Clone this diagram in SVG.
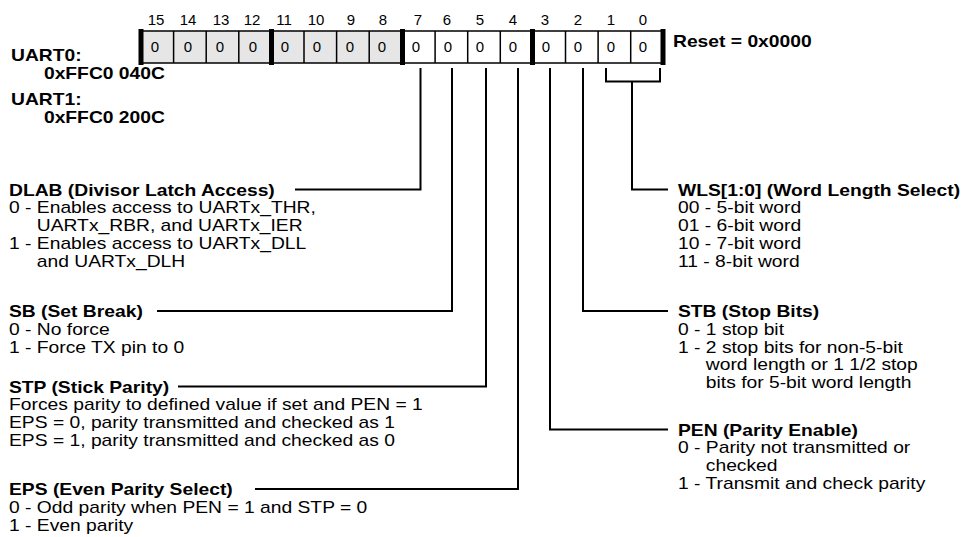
<svg xmlns="http://www.w3.org/2000/svg" width="964" height="537" viewBox="0 0 964 537">
<style>
text{font-family:"Liberation Sans",Arial,Helvetica,sans-serif;font-size:15.8px;fill:#000}
.b{font-weight:bold}
.d{font-size:15px;text-anchor:middle}
.cell{fill:none;stroke:#000;stroke-width:1.5}
.bar{fill:#000}
.con{fill:none;stroke:#000;stroke-width:2}
</style>
<rect width="964" height="537" fill="#fff"/>
<g id="register">
<rect x="141" y="31" width="261" height="32" fill="#e6e6e6"/>
<rect x="402" y="31" width="261" height="32" fill="#fff"/>
<path class="cell" d="M141,31H663M141,63H663M173.6,31V63M206.2,31V63M238.8,31V63M304,31V63M336.6,31V63M369.2,31V63M435.1,31V63M467.7,31V63M500.3,31V63M565.5,31V63M598.1,31V63M630.7,31V63"/>
<rect class="bar" x="138.5" y="29" width="5" height="36"/>
<rect class="bar" x="269" y="29" width="5" height="36"/>
<rect class="bar" x="400" y="29" width="5" height="36"/>
<rect class="bar" x="530" y="29" width="5" height="36"/>
<rect class="bar" x="660.5" y="29" width="5" height="36"/>
<g id="bitnums">
<text class="d" x="156" y="25">15</text><text class="d" x="188" y="25">14</text><text class="d" x="221" y="25">13</text><text class="d" x="252" y="25">12</text>
<text class="d" x="284" y="25">11</text><text class="d" x="316" y="25">10</text><text class="d" x="351" y="25">9</text><text class="d" x="383" y="25">8</text>
<text class="d" x="418" y="25">7</text><text class="d" x="447" y="25">6</text><text class="d" x="480" y="25">5</text><text class="d" x="513" y="25">4</text>
<text class="d" x="545" y="25">3</text><text class="d" x="578" y="25">2</text><text class="d" x="611" y="25">1</text><text class="d" x="643" y="25">0</text>
</g>
<g id="bitvals">
<text class="d" x="155" y="51.5">0</text><text class="d" x="188" y="51.5">0</text><text class="d" x="220" y="51.5">0</text><text class="d" x="253" y="51.5">0</text>
<text class="d" x="285" y="51.5">0</text><text class="d" x="317" y="51.5">0</text><text class="d" x="350" y="51.5">0</text><text class="d" x="382" y="51.5">0</text>
<text class="d" x="416" y="51.5">0</text><text class="d" x="448" y="51.5">0</text><text class="d" x="480" y="51.5">0</text><text class="d" x="513" y="51.5">0</text>
<text class="d" x="546" y="51.5">0</text><text class="d" x="578" y="51.5">0</text><text class="d" x="611" y="51.5">0</text><text class="d" x="643" y="51.5">0</text>
</g>
</g>
<g id="reset" transform="translate(673,46.5) scale(1.22,1)"><text class="b" x="0" y="0">Reset = 0x0000</text></g>
<g id="addr" transform="translate(11,0) scale(1.22,1)">
<text class="b" x="0" y="61">UART0:</text>
<text class="b" x="27" y="79.5">0xFFC0 040C</text>
<text class="b" x="0" y="105">UART1:</text>
<text class="b" x="27" y="123.5">0xFFC0 200C</text>
</g>
<g id="connectors">
<path class="con" d="M420.5,68V189.5H295"/>
<path class="con" d="M452,68V311H157"/>
<path class="con" d="M486,68V386.5H178"/>
<path class="con" d="M518,68V489H255"/>
<path class="con" d="M550,68V429.5H668"/>
<path class="con" d="M583,68V311H668"/>
<path class="con" d="M606,68V81.5H660V68M632,81.5V189.5H668"/>
</g>
<g id="dlab" transform="translate(9,195.5) scale(1.22,1)">
<text class="b" x="0" y="0">DLAB (Divisor Latch Access)</text>
<text x="0" y="17.8">0 - Enables access to UARTx_THR,</text>
<text x="22.8" y="35.6">UARTx_RBR, and UARTx_IER</text>
<text x="0" y="53.4">1 - Enables access to UARTx_DLL</text>
<text x="22.8" y="71.2">and UARTx_DLH</text>
</g>
<g id="sb" transform="translate(9,317) scale(1.22,1)">
<text class="b" x="0" y="0">SB (Set Break)</text>
<text x="0" y="17.8">0 - No force</text>
<text x="0" y="35.6">1 - Force TX pin to 0</text>
</g>
<g id="stp" transform="translate(9,392.5) scale(1.22,1)">
<text class="b" x="0" y="0">STP (Stick Parity)</text>
<text x="0" y="17.8">Forces parity to defined value if set and PEN = 1</text>
<text x="0" y="35.6">EPS = 0, parity transmitted and checked as 1</text>
<text x="0" y="53.4">EPS = 1, parity transmitted and checked as 0</text>
</g>
<g id="eps" transform="translate(9,495) scale(1.22,1)">
<text class="b" x="0" y="0">EPS (Even Parity Select)</text>
<text x="0" y="17.8">0 - Odd parity when PEN = 1 and STP = 0</text>
<text x="0" y="35.6">1 - Even parity</text>
</g>
<g id="wls" transform="translate(678,195.5) scale(1.22,1)">
<text class="b" x="0" y="0">WLS[1:0] (Word Length Select)</text>
<text x="0" y="17.8">00 - 5-bit word</text>
<text x="0" y="35.6">01 - 6-bit word</text>
<text x="0" y="53.4">10 - 7-bit word</text>
<text x="0" y="71.2">11 - 8-bit word</text>
</g>
<g id="stb" transform="translate(678,317) scale(1.22,1)">
<text class="b" x="0" y="0">STB (Stop Bits)</text>
<text x="0" y="17.8">0 - 1 stop bit</text>
<text x="0" y="35.6">1 - 2 stop bits for non-5-bit</text>
<text x="22.8" y="53.4">word length or 1 1/2 stop</text>
<text x="22.8" y="71.2">bits for 5-bit word length</text>
</g>
<g id="pen" transform="translate(678,435.5) scale(1.22,1)">
<text class="b" x="0" y="0">PEN (Parity Enable)</text>
<text x="0" y="17.8">0 - Parity not transmitted or</text>
<text x="22.8" y="35.6">checked</text>
<text x="0" y="53.4">1 - Transmit and check parity</text>
</g>
</svg>
